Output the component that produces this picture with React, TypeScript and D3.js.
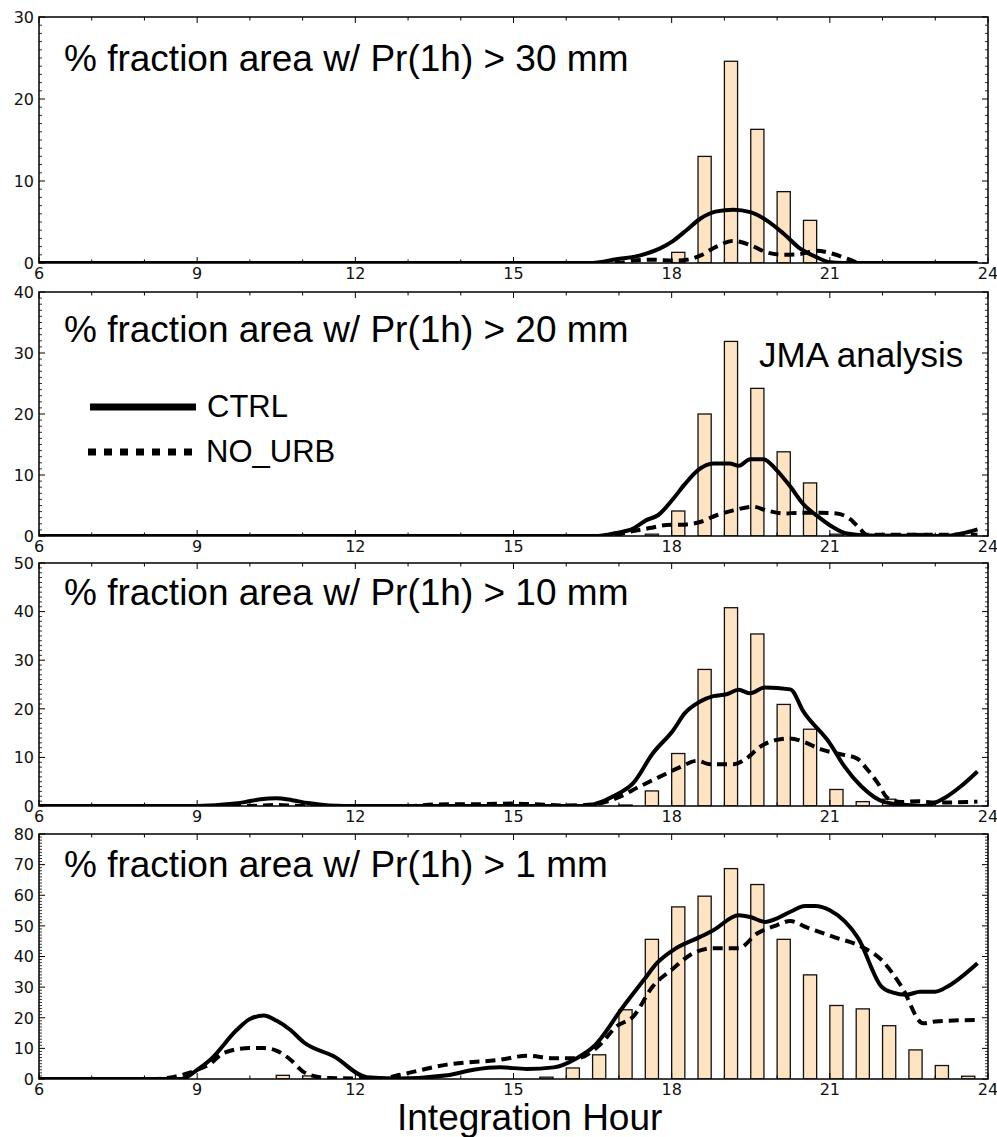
import React from "react";
import * as d3 from "d3";

// bar start hours (JMA analysis, half-hourly)
const BAR_HOURS = [
  6, 6.5, 7, 7.5, 8, 8.5, 9, 9.5, 10, 10.5, 11, 11.5, 12, 12.5, 13, 13.5, 14, 14.5,
  15, 15.5, 16, 16.5, 17, 17.5, 18, 18.5, 19, 19.5, 20, 20.5, 21, 21.5, 22, 22.5, 23, 23.5,
];

const BARS_30 = [
  0, 0, 0, 0, 0, 0, 0, 0, 0, 0, 0, 0, 0, 0, 0, 0, 0, 0,
  0, 0, 0, 0, 0, 0, 1.3, 13.0, 24.6, 16.3, 8.7, 5.2, 0, 0, 0, 0, 0, 0,
];
const BARS_20 = [
  0, 0, 0, 0, 0, 0, 0, 0, 0, 0, 0, 0, 0, 0, 0, 0, 0, 0,
  0, 0, 0, 0, 0, 0.3, 4.1, 20.0, 31.9, 24.2, 13.8, 8.7, 0.3, 0, 0, 0.4, 0, 0,
];
const BARS_10 = [
  0, 0, 0, 0, 0, 0, 0, 0, 0, 0, 0, 0, 0, 0, 0, 0, 0, 0,
  0, 0, 0, 0, 0.2, 3.1, 10.8, 28.1, 40.8, 35.4, 20.9, 15.8, 3.4, 0.9, 1.4, 0.3, 0, 0,
];
const BARS_1 = [
  0, 0, 0, 0, 0, 0, 0, 0, 0, 1.2, 1.0, 0, 0, 0, 0, 0, 0, 0,
  0, 0.6, 3.6, 7.9, 22.6, 45.6, 56.2, 59.7, 68.7, 63.5, 45.6, 34.0, 24.0, 22.9, 17.4, 9.5, 4.4, 0.9,
];

// model series: [hour, % area]
const CTRL_30: [number, number][] = [
  [6, 0], [16.5, 0], [16.95, 0.45], [17.39, 0.9], [17.77, 1.75], [18.03, 2.7], [18.28, 4.0],
  [18.54, 5.4], [18.85, 6.3], [19.17, 6.5], [19.49, 6.2], [19.8, 5.2], [20.12, 3.6],
  [20.44, 1.75], [20.75, 0.7], [21.0, 0.1], [21.25, 0], [23.8, 0],
];
const NOURB_30: [number, number][] = [
  [6, 0], [17.0, 0], [17.27, 0.3], [17.64, 0.4], [18.03, 0.3], [18.28, 0.4], [18.54, 0.9],
  [18.85, 2.0], [19.17, 2.7], [19.49, 2.2], [19.8, 1.3], [20.12, 1.0], [20.44, 1.1],
  [20.75, 1.5], [21.07, 1.1], [21.38, 0.4], [21.57, 0], [23.8, 0],
];
const CTRL_20: [number, number][] = [
  [6, 0], [16.6, 0], [16.95, 0.5], [17.27, 1.2], [17.52, 2.6], [17.74, 3.4], [18.03, 6.1],
  [18.25, 8.5], [18.5, 10.8], [18.79, 11.9], [19.1, 11.9], [19.27, 11.5], [19.49, 12.6],
  [19.74, 12.6], [19.99, 10.8], [20.25, 8.1], [20.5, 5.2], [20.82, 2.9], [21.07, 1.4],
  [21.32, 0.4], [21.7, 0.1], [23.2, 0], [23.5, 0.4], [23.8, 1.1],
];
const NOURB_20: [number, number][] = [
  [6, 0], [16.8, 0], [16.95, 0.2], [17.27, 0.8], [17.58, 1.3], [17.9, 1.8], [18.28, 1.9],
  [18.54, 2.3], [18.85, 3.4], [19.17, 4.2], [19.55, 4.8], [19.8, 4.2], [20.12, 3.7],
  [20.44, 3.8], [20.82, 3.8], [21.13, 3.7], [21.38, 2.8], [21.57, 1.2], [21.7, 0.2], [23.8, 0.2],
];
const CTRL_10: [number, number][] = [
  [6, 0], [9.0, 0], [9.5, 0.3], [9.9, 0.8], [10.2, 1.4], [10.5, 1.6], [10.8, 1.2], [11.1, 0.6],
  [11.5, 0.1], [11.8, 0], [16.4, 0], [16.52, 0.3], [16.95, 2.3], [17.27, 4.7], [17.64, 10.8],
  [18.03, 15.6], [18.25, 19.1], [18.54, 21.5], [18.79, 22.6], [19.04, 23.0], [19.27, 23.9],
  [19.49, 23.2], [19.77, 24.4], [20.25, 24.0], [20.5, 19.4], [21.0, 12.9], [21.28, 8.1],
  [21.6, 4.0], [22.04, 0.8], [22.48, 0.2], [22.77, 0], [23.2, 1.8], [23.48, 4.0], [23.8, 7.1],
];
const NOURB_10: [number, number][] = [
  [6, 0], [10.0, 0], [10.5, 0.2], [11.0, 0], [13.0, 0], [13.5, 0.3], [14.5, 0.4], [15.0, 0.5],
  [15.5, 0.3], [16.0, 0.1], [16.5, 0.3], [16.95, 1.6], [17.39, 4.0], [17.77, 6.0], [18.16, 8.0],
  [18.48, 9.3], [18.73, 8.6], [19.17, 8.6], [19.42, 9.8], [19.68, 12.2], [19.99, 13.6],
  [20.25, 13.9], [20.5, 13.2], [20.82, 11.7], [21.13, 10.8], [21.51, 9.8], [21.72, 7.4],
  [21.91, 4.7], [22.1, 1.6], [22.36, 0.8], [22.67, 1.0], [23.0, 0.7], [23.8, 0.9],
];
const CTRL_1: [number, number][] = [
  [6, 0], [8.7, 0], [9.0, 3.0], [9.25, 6.3], [9.75, 16], [10.0, 19.6], [10.26, 20.7],
  [10.51, 19.0], [10.77, 16], [11.02, 12], [11.59, 7.4], [12.22, 0.6], [12.85, 0.2],
  [13.74, 1.2], [14.24, 3.0], [14.75, 3.8], [15.25, 3.3], [15.76, 3.8], [16.2, 6.8],
  [16.52, 10.6], [17.08, 23.6], [17.47, 32.3], [17.72, 37.8], [18.03, 42.1], [18.54, 46.4],
  [18.79, 48.6], [19.27, 53.5], [19.49, 52.9], [19.77, 51.3], [19.99, 52.4], [20.25, 54.6],
  [20.53, 56.5], [20.72, 56.5], [21.0, 55.1], [21.54, 45.9], [21.98, 30.2], [22.2, 28.2],
  [22.45, 27.5], [22.71, 28.5], [23.0, 28.5], [23.25, 30.4], [23.8, 37.8],
];
const NOURB_1: [number, number][] = [
  [6, 0], [8.2, 0], [8.5, 0.5], [8.75, 1.5], [9.0, 3.0], [9.25, 5.0], [9.5, 8.5], [10.0, 10.1],
  [10.26, 10.1], [10.5, 9.3], [10.77, 6.3], [11.0, 2.5], [11.25, 0.8], [11.5, 0.3], [12.0, 0.2],
  [12.5, 0.2], [12.85, 1.4], [13.74, 4.7], [14.75, 6.3], [15.25, 7.6], [15.76, 6.8], [16.2, 6.8],
  [16.64, 11.2], [16.95, 17.1], [17.27, 20.4], [17.64, 30.2], [18.03, 36.1], [18.35, 40.5],
  [18.79, 42.7], [19.27, 42.7], [19.62, 47.5], [19.99, 50.2], [20.25, 51.6], [20.56, 49.5],
  [21.07, 46.4], [21.6, 43.2], [21.98, 38.9], [22.36, 30.2], [22.77, 18.2], [23.0, 18.8],
  [23.8, 19.3],
];

const THRESHOLDS = ["30", "20", "10", "1"];
const Y_MAX = [30, 40, 50, 80];
const X_TICKS = [6, 9, 12, 15, 18, 21, 24];

const PANELS = [
  { bars: BARS_30, ctrl: CTRL_30, nourb: NOURB_30 },
  { bars: BARS_20, ctrl: CTRL_20, nourb: NOURB_20 },
  { bars: BARS_10, ctrl: CTRL_10, nourb: NOURB_10 },
  { bars: BARS_1, ctrl: CTRL_1, nourb: NOURB_1 },
];

// layout
const W = 997;
const H = 1137;
const LEFT = 39;
const RIGHT = 988;
const FRAMES = [
  { top: 17, bottom: 263, titleY: 71 },
  { top: 292, bottom: 536, titleY: 342 },
  { top: 563, bottom: 806, titleY: 605 },
  { top: 834, bottom: 1079, titleY: 877 },
];
const SANS = "'Liberation Sans', Arial, sans-serif";
const TICK_FONT = "'DejaVu Sans', sans-serif";

const x = d3.scaleLinear().domain([6, 24]).range([LEFT, RIGHT]);

function Panel({ i }: { i: number }) {
  const { top, bottom, titleY } = FRAMES[i];
  const yMax = Y_MAX[i];
  const p = PANELS[i];
  const y = d3.scaleLinear().domain([0, yMax]).range([bottom, top]);
  const line = d3
    .line<[number, number]>()
    .x((d) => x(d[0]))
    .y((d) => y(d[1]))
    .curve(d3.curveMonotoneX);

  const yMajor = d3.range(0, yMax + 1, 10);
  const yMinor = d3.range(0, yMax + 1, 1).filter((v) => v % 10 !== 0);
  const xMinor = d3.range(6, 25, 1).filter((v) => v % 3 !== 0);
  const clipId = `clip-${i}`;

  return (
    <g>
      <defs>
        <clipPath id={clipId}>
          <rect x={LEFT} y={top} width={RIGHT - LEFT} height={bottom - top} />
        </clipPath>
      </defs>
      <g clipPath={`url(#${clipId})`}>
        {BAR_HOURS.map((h, k) =>
          p.bars[k] > 0 ? (
            <rect
              key={k}
              x={x(h)}
              y={y(p.bars[k])}
              width={x(h + 0.25) - x(h)}
              height={y(0) - y(p.bars[k])}
              fill="#FFE4C4"
              stroke="#111"
              strokeWidth={1.3}
            />
          ) : null
        )}
        <path d={line(p.ctrl) || ""} fill="none" stroke="#000" strokeWidth={4} strokeLinejoin="round" />
        <path d={line(p.nourb) || ""} fill="none" stroke="#000" strokeWidth={4} strokeDasharray="10,6" />
      </g>

      {/* ticks */}
      {X_TICKS.map((t) => (
        <g key={"xM" + t}>
          <line x1={x(t)} x2={x(t)} y1={bottom} y2={bottom - 6} stroke="#000" />
          <line x1={x(t)} x2={x(t)} y1={top} y2={top + 6} stroke="#000" />
          <text
            x={x(t)}
            y={bottom + 16}
            textAnchor="middle"
            fontFamily={TICK_FONT}
            fontSize={16}
            fill="#111"
          >
            {t}
          </text>
        </g>
      ))}
      {xMinor.map((t) => (
        <g key={"xm" + t}>
          <line x1={x(t)} x2={x(t)} y1={bottom} y2={bottom - 3.5} stroke="#000" />
          <line x1={x(t)} x2={x(t)} y1={top} y2={top + 3.5} stroke="#000" />
        </g>
      ))}
      {yMajor.map((v) => (
        <g key={"yM" + v}>
          <line x1={LEFT} x2={LEFT + 6} y1={y(v)} y2={y(v)} stroke="#000" />
          <line x1={RIGHT} x2={RIGHT - 6} y1={y(v)} y2={y(v)} stroke="#000" />
          <text
            x={LEFT - 5}
            y={y(v)}
            dy="0.36em"
            textAnchor="end"
            fontFamily={TICK_FONT}
            fontSize={16}
            fill="#111"
          >
            {v}
          </text>
        </g>
      ))}
      {yMinor.map((v) => (
        <g key={"ym" + v}>
          <line x1={LEFT} x2={LEFT + 3} y1={y(v)} y2={y(v)} stroke="#000" strokeWidth={0.8} />
          <line x1={RIGHT} x2={RIGHT - 3} y1={y(v)} y2={y(v)} stroke="#000" strokeWidth={0.8} />
        </g>
      ))}
      <rect
        x={LEFT}
        y={top}
        width={RIGHT - LEFT}
        height={bottom - top}
        fill="none"
        stroke="#000"
        strokeWidth={1.5}
      />
      <text x={64} y={titleY} fontFamily={SANS} fontSize={37} fill="#000">
        {`% fraction area w/ Pr(1h) > ${THRESHOLDS[i]} mm`}
      </text>
    </g>
  );
}

export default function App() {
  return (
    <svg
      width={W}
      height={H}
      style={{ position: "absolute", left: 0, top: 0, background: "#fff" }}
    >
      <rect width={W} height={H} fill="#fff" />
      {PANELS.map((_, i) => (
        <Panel key={i} i={i} />
      ))}
      {/* legend */}
      <line x1={90} x2={196} y1={407} y2={407} stroke="#000" strokeWidth={7} />
      <text x={207} y={417} fontFamily={SANS} fontSize={31}>
        CTRL
      </text>
      <line x1={88} x2={194} y1={452} y2={452} stroke="#000" strokeWidth={7} strokeDasharray="8,8" />
      <text x={206} y={462} fontFamily={SANS} fontSize={31}>
        NO_URB
      </text>
      <text x={759} y={367} fontFamily={SANS} fontSize={35}>
        JMA analysis
      </text>
      <text x={397} y={1130} fontFamily={SANS} fontSize={37}>
        Integration Hour
      </text>
    </svg>
  );
}
